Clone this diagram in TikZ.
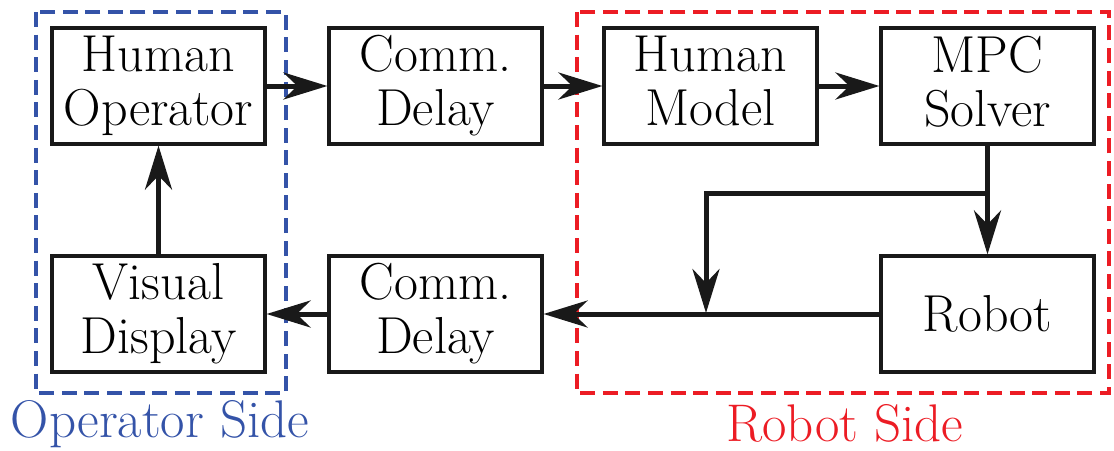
\documentclass[tikz,border=0pt]{standalone}
\usetikzlibrary{arrows.meta}
\definecolor{opblue}{RGB}{52,83,168}
\definecolor{robred}{RGB}{236,28,36}
\tikzset{
  blk/.style={draw=black!90, line width=1.6pt, minimum width=106.5pt, minimum height=58pt,
    inner sep=0pt, align=center, font=\fontsize{26}{27}\selectfont},
  arr/.style={line width=2.5pt, draw=black!90, -{Stealth[length=22pt,width=13.5pt,inset=7pt]}},
  groupbox/.style={line width=2.2pt, dash pattern=on 7.5pt off 3.8pt},
  sidelabel/.style={font=\fontsize{26.5}{27}\selectfont, anchor=base, inner sep=0pt}
}
\begin{document}
\begin{tikzpicture}[x=0.5pt, y=-0.5pt]
\useasboundingbox (0,0) rectangle (1114,450);
% group boxes
\draw[groupbox, opblue] (36,12) rectangle (286,393);
\draw[groupbox, robred] (577,12) rectangle (1109,393);
% blocks
\node[blk] (ho)  at (158.5,86)  {Human\\Operator};
\node[blk] (cd1) at (435.5,86)  {Comm.\\Delay};
\node[blk] (hm)  at (710.5,86)  {Human\\Model\vphantom{p}};
\node[blk] (mpc) at (987.5,86)  {MPC\\Solver\vphantom{p}};
\node[blk] (vd)  at (158.5,314) {Visual\\Display};
\node[blk] (cd2) at (435.5,314) {Comm.\\Delay};
\node[blk] (rob) at (987.5,314) {Robot};
% labels
\node[sidelabel, text=opblue] (opside) at (160,437) {Operator Side};
\node[sidelabel, text=robred] (robside) at (845,441) {Robot Side};
% connectors
\coordinate (br) at (987.5,193);
\coordinate (bj) at (706,313);
\draw[arr] (ho) -- (cd1);
\draw[arr] (cd1) -- (hm);
\draw[arr] (hm) -- (mpc);
\draw[arr] (mpc) -- (rob);
\draw[arr] (br) -| (bj);
\draw[arr] (rob) -- (cd2);
\draw[arr] (cd2) -- (vd);
\draw[arr] (vd) -- (ho);
\end{tikzpicture}
\end{document}
